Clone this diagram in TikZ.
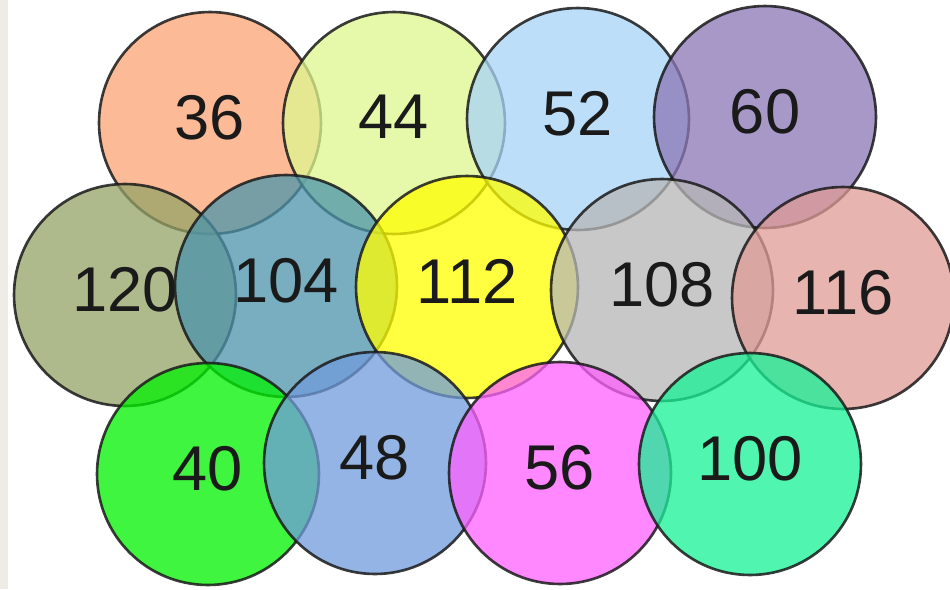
\documentclass[tikz,border=0pt]{standalone}
\usepackage{fontspec}
\setmainfont{Liberation Sans}
\usepackage{tikz}
\usetikzlibrary{positioning}
\definecolor{mPeach}{HTML}{FCA473}
\definecolor{mLime}{HTML}{DEF88E}
\definecolor{mSky}{HTML}{A8D3F8}
\definecolor{mPurple}{HTML}{8B76B6}
\definecolor{mOlive}{HTML}{94A266}
\definecolor{mTeal}{HTML}{4B94AB}
\definecolor{mYellow}{HTML}{FFFF00}
\definecolor{mGray}{HTML}{B6B6B6}
\definecolor{mRose}{HTML}{E09B96}
\definecolor{mGreen}{HTML}{00F200}
\definecolor{mBlue}{HTML}{709BDB}
\definecolor{mPink}{HTML}{FF60FF}
\definecolor{mMint}{HTML}{16F296}
\definecolor{mStrip}{HTML}{EEECE4}
\definecolor{mInk}{HTML}{1A1A1A}

\begin{document}
\begin{tikzpicture}[
  x=0.02cm, y=-0.02cm,
  ring/.style={circle, draw=mInk, draw opacity=0.85, line width=1.5pt,
    fill opacity=0.75, text opacity=1, text=mInk, minimum size=4.44cm,
    text depth=0.24cm, font=\fontsize{36}{40}\selectfont},
]
  \useasboundingbox (0,0) rectangle (950,589);
  \fill[white] (0,0) rectangle (950,589);
  \fill[mStrip] (0,0) rectangle (8,589);

  \node[ring, fill=mPeach]   (c36) at (210,123) {36};
  \node[ring, fill=mLime]    (c44) at (394,123) {44};
  \node[ring, fill=mSky]     (c52) at (578,119) {52};
  \node[ring, fill=mPurple]  (c60) at (765,117) {60};

  \node[ring, fill=mOlive]   (c120) at (125,295) {120};
  \node[ring, fill=mTeal]    (c104) at (286,286) {104};
  \node[ring, fill=mYellow]  (c112) at (467,287) {112};
  \node[ring, fill=mGray]    (c108) at (662,290) {108};
  \node[ring, fill=mRose]    (c116) at (843,298) {116};

  \node[ring, fill=mGreen]   (c40)  at (208,474) {40};
  \node[ring, fill=mBlue]    (c48)  at (375,463) {48};
  \node[ring, fill=mPink]    (c56)  at (560,473) {56};
  \node[ring, fill=mMint]    (c100) at (750,464) {100};
\end{tikzpicture}
\end{document}
